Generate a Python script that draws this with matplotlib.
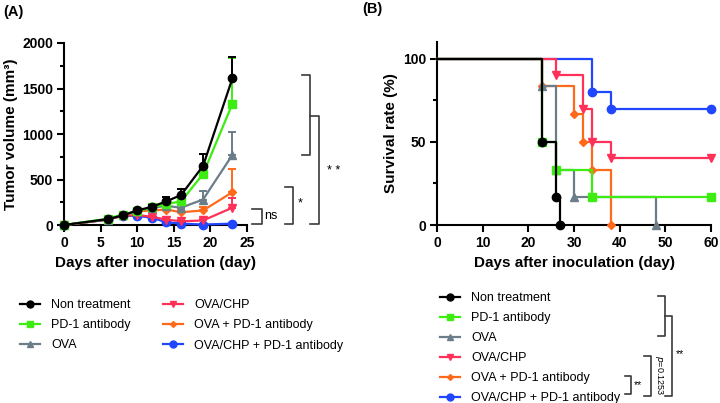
import numpy as np
import matplotlib
matplotlib.use("Agg")
import matplotlib.pyplot as plt
from matplotlib.lines import Line2D

plt.rcParams['font.family'] = ['Liberation Sans', 'DejaVu Sans']

# ---- data ----
groups = ["Non treatment", "PD-1 antibody", "OVA", "OVA/CHP",
          "OVA + PD-1 antibody", "OVA/CHP + PD-1 antibody"]
colors = ["#000000", "#3ded12", "#6b7d88", "#ff3158", "#ff6a1a", "#2047ff"]
markers = ["o", "s", "^", "v", "D", "o"]
msizes = [6, 5.5, 6, 6, 4, 6]

# (A) tumor volume
days = [0, 6, 8, 10, 12, 14, 16, 19, 23]
vol_non = [0, 65, 105, 160, 200, 260, 330, 650, 1610]
vol_pd1 = [0, 70, 115, 150, 195, 230, 260, 560, 1330]
vol_ova = [0, 60, 110, 150, 190, 210, 190, 280, 770]
vol_chp = [0, 60, 100, 110, 90, 60, 40, 50, 190]
vol_ovapd1 = [0, 60, 110, 150, 160, 170, 140, 160, 360]
vol_chppd1 = [0, 60, 100, 100, 80, 30, 15, 5, 15]
err_non = [0, 5, 10, 15, 20, 45, 70, 125, 240]
err_pd1 = [0, 5, 10, 10, 15, 20, 40, 60, 500]
err_ova = [0, 5, 10, 10, 15, 20, 30, 90, 250]
err_chp = [0, 5, 5, 10, 10, 15, 10, 20, 110]
err_ovapd1 = [0, 5, 10, 10, 15, 20, 20, 40, 260]
err_chppd1 = [0, 5, 5, 10, 10, 10, 5, 5, 5]
vols = [vol_non, vol_pd1, vol_ova, vol_chp, vol_ovapd1, vol_chppd1]
errs = [err_non, err_pd1, err_ova, err_chp, err_ovapd1, err_chppd1]

# (B) survival (Kaplan-Meier steps)
t_non = [0, 23, 26, 27]
s_non = [100, 50, 16.7, 0]
t_pd1 = [0, 23, 26, 34, 60]
s_pd1 = [100, 50, 33.3, 16.7, 16.7]
t_ova = [0, 23, 26, 30, 48]
s_ova = [100, 83.3, 33.3, 16.7, 0]
t_chp = [0, 26, 32, 34, 38, 60]
s_chp = [100, 90, 70, 50, 40, 40]
t_ovapd1 = [0, 23, 30, 32, 34, 38]
s_ovapd1 = [100, 83.3, 66.7, 50, 33.3, 0]
t_chppd1 = [0, 34, 38, 60]
s_chppd1 = [100, 80, 70, 70]
times = [t_non, t_pd1, t_ova, t_chp, t_ovapd1, t_chppd1]
survs = [s_non, s_pd1, s_ova, s_chp, s_ovapd1, s_chppd1]

W, H = 720, 403
fig = plt.figure(figsize=(7.2, 4.03), dpi=100)

def fx(px):
    return px / W

def fy(py):
    return 1 - py / H

def style_axes(ax):
    for s in ["top", "right"]:
        ax.spines[s].set_visible(False)
    for s in ["left", "bottom"]:
        ax.spines[s].set_linewidth(1.5)
    ax.tick_params(which="major", direction="out", length=5, width=1.5,
                   labelsize=10, pad=3)
    ax.tick_params(which="minor", direction="out", length=3, width=1.5)
    for lab in ax.get_xticklabels() + ax.get_yticklabels():
        lab.set_fontweight("bold")

# ---- panel A ----
axA = fig.add_axes([fx(64), fy(225), fx(247 - 64), fy(43) - fy(225)])
for i in reversed(range(6)):
    axA.errorbar(days, vols[i], yerr=[np.zeros(len(errs[i])), errs[i]],
                 color=colors[i], marker=markers[i], ms=msizes[i], lw=1.6,
                 capsize=3, elinewidth=1.4, capthick=1.4, clip_on=False,
                 zorder=3 + (5 - i))
axA.set_xlim(0, 25)
axA.set_ylim(0, 2000)
axA.set_xticks([0, 5, 10, 15, 20, 25])
axA.set_yticks([0, 500, 1000, 1500, 2000])
axA.set_yticks([250, 750, 1250, 1750], minor=True)
style_axes(axA)
axA.set_xlabel("Days after inoculation (day)", fontsize=11, fontweight="bold",
               labelpad=4)
axA.set_ylabel("Tumor volume (mm³)", fontsize=11, fontweight="bold", labelpad=3)

# ---- panel B ----
axB = fig.add_axes([fx(437), fy(225), fx(711 - 437), fy(42) - fy(225)])
for i in reversed(range(6)):
    axB.plot(times[i], survs[i], drawstyle="steps-post", color=colors[i],
             lw=1.6, zorder=3 + (5 - i), clip_on=False)
    axB.plot(times[i][1:], survs[i][1:], ls="none", marker=markers[i],
             ms=msizes[i], color=colors[i], zorder=3 + (5 - i), clip_on=False)
axB.set_xlim(0, 60)
axB.set_ylim(0, 110)
axB.set_xticks([0, 10, 20, 30, 40, 50, 60])
axB.set_yticks([0, 50, 100])
axB.set_yticks([25, 75], minor=True)
style_axes(axB)
axB.set_xlabel("Days after inoculation (day)", fontsize=11, fontweight="bold",
               labelpad=4)
axB.set_ylabel("Survival rate (%)", fontsize=11, fontweight="bold", labelpad=3)

fig.text(fx(3), fy(12), "(A)", fontsize=10.5, fontweight="bold", va="center")
fig.text(fx(362), fy(9), "(B)", fontsize=10.5, fontweight="bold", va="center")

# ---- legends ----
handles = [Line2D([], [], color=colors[i], marker=markers[i], ms=msizes[i] - 1,
                  lw=1.6) for i in range(6)]
legA = fig.legend(handles, groups, ncol=2, loc="upper left",
                  bbox_to_anchor=(fx(20), fy(299)), frameon=False, fontsize=9,
                  handlelength=1.6, handletextpad=0.9, columnspacing=2.6,
                  labelspacing=0.66, borderpad=0, borderaxespad=0)
legB = fig.legend(handles, groups, ncol=1, loc="upper left",
                  bbox_to_anchor=(fx(440), fy(292)), frameon=False, fontsize=9,
                  handlelength=1.6, handletextpad=0.9,
                  labelspacing=0.64, borderpad=0, borderaxespad=0)

# ---- significance brackets ----
bc = "#3a3a3a"
def seg(xs, ys):
    fig.add_artist(Line2D([fx(x) for x in xs], [fy(y) for y in ys],
                          color=bc, lw=1.2, transform=fig.transFigure))

# panel A
seg([302, 310, 310, 302], [75, 75, 155, 155])
seg([310, 319, 319, 310], [116, 116, 224, 224])
fig.text(fx(327), fy(171), "* *", fontsize=9, va="center")
seg([285, 293, 293, 285], [187, 187, 224, 224])
fig.text(fx(298), fy(203), "*", fontsize=9, va="center")
seg([252, 262, 262, 252], [209, 209, 224, 224])
fig.text(fx(264), fy(216), "ns", fontsize=9, va="center")

# panel B
seg([658, 665, 665, 658], [296, 296, 336, 336])
seg([665, 672, 672, 665], [316, 316, 396, 396])
fig.text(fx(676), fy(354), "**", fontsize=7.5, va="center")
seg([644, 651, 651, 644], [356, 356, 396, 396])
fig.text(fx(659), fy(375), "$p$=0.1253", fontsize=6.5, rotation=270,
         va="center", ha="center")
seg([625, 631, 631, 625], [376, 376, 394, 394])
fig.text(fx(634), fy(385), "**", fontsize=7.5, va="center")

fig.savefig("out.png", dpi=100)
